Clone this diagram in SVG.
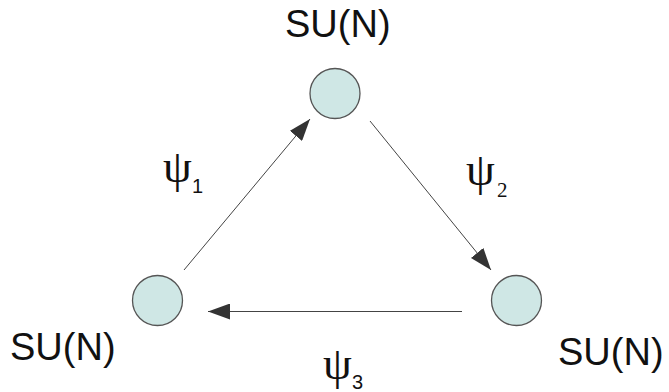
<svg xmlns="http://www.w3.org/2000/svg" width="669" height="392" viewBox="0 0 669 392">
<style>
.node{fill:#cfe7e5;stroke:#555;stroke-width:1.3}
.lbl{font-family:"Liberation Sans",Arial,sans-serif;font-size:38px;fill:#111}
.psi{font-family:"Liberation Serif","Times New Roman",serif;font-size:46px;fill:#111}
.sub{font-family:"Liberation Sans",Arial,sans-serif;font-size:20px;fill:#111}
.subs{font-family:"Liberation Serif","Times New Roman",serif;font-size:21px;fill:#111}
.conn{stroke:#444;stroke-width:1;fill:none;marker-end:url(#ah)}
</style>
<defs>
<marker id="ah" markerUnits="userSpaceOnUse" markerWidth="22" markerHeight="16" viewBox="0 0 22 16" refX="22" refY="8" orient="auto">
<path d="M0,0 L22,8 L0,16 Z" fill="#333"/>
</marker>
</defs>
<rect width="669" height="392" fill="#fff"/>
<g id="connectors">
<line class="conn" x1="184" y1="270" x2="310" y2="119"/>
<line class="conn" x1="370" y1="121" x2="491" y2="270"/>
<line class="conn" x1="462" y1="311.5" x2="208" y2="311.5"/>
</g>
<g id="node-top">
<circle class="node" cx="335" cy="93.5" r="25"/>
<text class="lbl" x="285" y="37">SU(N)</text>
</g>
<g id="node-right">
<circle class="node" cx="516.5" cy="300.5" r="25"/>
<text class="lbl" x="558" y="365">SU(N)</text>
</g>
<g id="node-left">
<circle class="node" cx="157.5" cy="300.5" r="25"/>
<text class="lbl" x="10" y="360">SU(N)</text>
</g>
<g id="label-psi1">
<text class="psi" x="163" y="182">ψ</text>
<text class="sub" x="192" y="193">1</text>
</g>
<g id="label-psi2">
<text class="psi" x="466" y="185">ψ</text>
<text class="subs" x="497" y="197">2</text>
</g>
<g id="label-psi3">
<text class="psi" x="323" y="379">ψ</text>
<text class="sub" x="352" y="389">3</text>
</g>
</svg>
